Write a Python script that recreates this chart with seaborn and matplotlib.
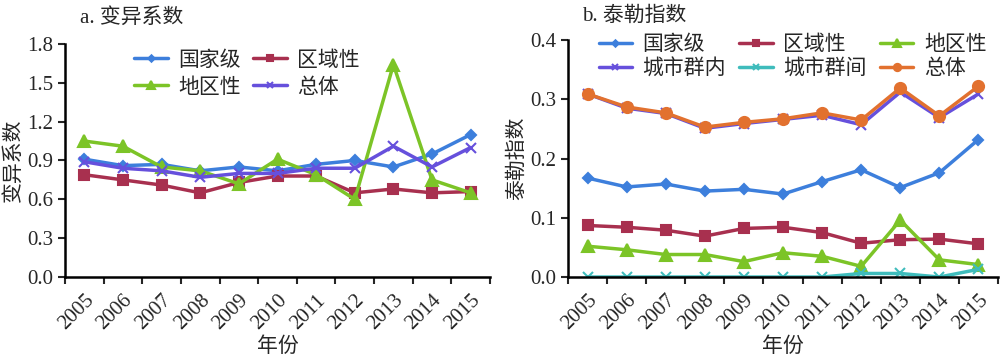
import numpy as np
import pandas as pd
import matplotlib
matplotlib.use("Agg")
from matplotlib import pyplot as plt
from matplotlib.ticker import FixedLocator
import seaborn as sns

sns.set_style("white")
plt.rcParams['font.family'] = ['Liberation Serif', 'Noto Sans CJK SC', 'DejaVu Sans']

years = [str(y) for y in range(2005, 2016)]

# a. coefficient of variation
cv_national = [0.91, 0.86, 0.87, 0.82, 0.85, 0.82, 0.87, 0.90, 0.85, 0.95, 1.10]
cv_regional = [0.79, 0.75, 0.71, 0.65, 0.73, 0.78, 0.78, 0.65, 0.68, 0.65, 0.66]
cv_local = [1.05, 1.01, 0.85, 0.82, 0.72, 0.91, 0.79, 0.60, 1.64, 0.75, 0.65]
cv_total = [0.89, 0.84, 0.82, 0.77, 0.80, 0.80, 0.84, 0.84, 1.01, 0.85, 1.00]

# b. Theil index
th_national = [0.167, 0.152, 0.157, 0.145, 0.148, 0.140, 0.161, 0.181, 0.151, 0.176, 0.232]
th_regional = [0.087, 0.084, 0.079, 0.069, 0.082, 0.084, 0.075, 0.057, 0.063, 0.064, 0.056]
th_local = [0.052, 0.046, 0.038, 0.038, 0.026, 0.041, 0.035, 0.018, 0.096, 0.029, 0.021]
th_within = [0.309, 0.285, 0.276, 0.251, 0.259, 0.266, 0.273, 0.257, 0.312, 0.269, 0.309]
th_between = [0.0, 0.0, 0.0, 0.0, 0.0, 0.0, 0.0, 0.006, 0.006, 0.0, 0.013]
th_total = [0.309, 0.287, 0.277, 0.253, 0.261, 0.267, 0.277, 0.265, 0.319, 0.272, 0.322]

blue, red, green = "#3d7fdc", "#a8304f", "#7cc427"
purple, cyan, orange = "#6650dc", "#3fbcbc", "#e2712f"

cjk = ['Noto Sans CJK SC', 'DejaVu Sans']
serif = ['Liberation Serif', 'Noto Sans CJK SC']


def draw_series(ax, values, label, color, marker, ms):
    df = pd.DataFrame({"x": np.arange(len(years)), "y": values})
    sns.lineplot(data=df, x="x", y="y", ax=ax, color=color, marker=marker,
                 markersize=ms, markeredgecolor=color, markeredgewidth=1.5,
                 linewidth=2.5, label=label)


def style_axes(ax, ymax, ystep, fmt):
    ax.set_xlim(-0.5, len(years) - 0.5)
    ax.set_ylim(0, ymax)
    ax.set_yticks(np.arange(0, ymax + 1e-9, ystep))
    ax.set_yticklabels([fmt.format(v) for v in np.arange(0, ymax + 1e-9, ystep)],
                       fontsize=15, family=serif)
    ax.set_xticks(np.arange(len(years)))
    ax.set_xticklabels(years, rotation=45, ha='right', rotation_mode='anchor',
                       fontsize=15, family=serif)
    ax.xaxis.set_minor_locator(FixedLocator(np.arange(-0.5, len(years), 1.0)))
    ax.tick_params(axis='x', which='major', length=0, pad=10)
    ax.tick_params(axis='x', which='minor', length=5, width=1.5, direction='out', bottom=True)
    ax.tick_params(axis='y', length=5, width=1.5, direction='out', left=True)
    for s in ['top', 'right']:
        ax.spines[s].set_visible(False)
    for s in ['left', 'bottom']:
        ax.spines[s].set_color('black')
        ax.spines[s].set_linewidth(1.8)
    ax.set_xlabel("年份", fontsize=15, family=cjk, labelpad=1)


def reordered_legend(ax, order, ncol, anchor, colspace, rowspace):
    handles, labels = ax.get_legend_handles_labels()
    ax.legend([handles[i] for i in order], [labels[i] for i in order],
              ncol=ncol, loc='upper center', bbox_to_anchor=anchor,
              bbox_transform=fig.transFigure, frameon=False,
              prop={'family': cjk, 'size': 15}, handlelength=1.6,
              columnspacing=colspace, handletextpad=0.5, labelspacing=rowspace,
              borderpad=0, borderaxespad=0, markerscale=0.65)


fig = plt.figure(figsize=(10, 3.57), dpi=100)
ax1 = fig.add_axes([0.065, 0.224, 0.425, 0.653])
ax2 = fig.add_axes([0.568, 0.224, 0.43, 0.664])

draw_series(ax1, cv_national, "国家级", blue, "D", 5)
draw_series(ax1, cv_regional, "区域性", red, "s", 7)
draw_series(ax1, cv_local, "地区性", green, "^", 8)
draw_series(ax1, cv_total, "总体", purple, "x", 7)
style_axes(ax1, 1.8, 0.3, "{:.1f}")
ax1.set_ylabel("变异系数", fontsize=15, family=cjk, labelpad=2)
reordered_legend(ax1, [0, 2, 1, 3], 2, (0.247, 0.864), 0.6, 0.25)

draw_series(ax2, th_national, "国家级", blue, "D", 5)
draw_series(ax2, th_regional, "区域性", red, "s", 7)
draw_series(ax2, th_local, "地区性", green, "^", 8)
draw_series(ax2, th_within, "城市群内", purple, "x", 7)
draw_series(ax2, th_between, "城市群间", cyan, "x", 7)
draw_series(ax2, th_total, "总体", orange, "o", 8)
style_axes(ax2, 0.4, 0.1, "{:.1f}")
ax2.set_ylabel("泰勒指数", fontsize=15, family=cjk, labelpad=2)
reordered_legend(ax2, [0, 3, 1, 4, 2, 5], 3, (0.7925, 0.907), 0.65, 0.1)

fig.text(0.08, 0.95, "a. 变异系数", fontsize=15, family=serif, va='center')
fig.text(0.582, 0.955, "b. 泰勒指数", fontsize=15, family=serif, va='center')

fig.savefig("out.png", dpi=100)
